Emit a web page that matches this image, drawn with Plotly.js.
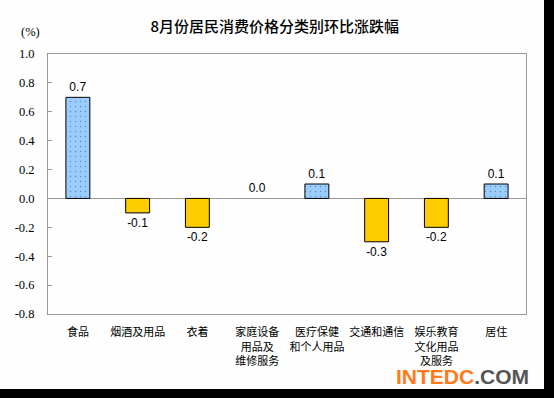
<!DOCTYPE html>
<html>
<head>
<meta charset="utf-8">
<script src="https://cdn.plot.ly/plotly-3.0.1.min.js"></script>
<style>
html,body{margin:0;padding:0;background:#000;width:554px;height:398px;overflow:hidden;}
#chart{width:544px;height:389px;background:#fdfefd;}
</style>
</head>
<body>
<div id="chart"></div>
<script>
const categories = ["食品","烟酒及用品","衣着","家庭设备<br>用品及<br>维修服务","医疗保健<br>和个人用品","交通和通信","娱乐教育<br>文化用品<br>及服务","居住"];
const values = [0.7, -0.1, -0.2, 0.0, 0.1, -0.3, -0.2, 0.1];
const valueLabels = ["0.7","-0.1","-0.2","0.0","0.1","-0.3","-0.2","0.1"];
const tickVals = [1.0,0.8,0.6,0.4,0.2,0.0,-0.2,-0.4,-0.6,-0.8];
const tickText = ["1.0","0.8","0.6","0.4","0.2","0.0","-0.2","-0.4","-0.6","-0.8"];
const titleText = "8月份居民消费价格分类别环比涨跌幅";

const colors = values.map(v => v >= 0 ? "#99ccff" : "#ffcc00");
const lineWidths = values.map(v => v === 0 ? 0 : 1);
const patternShapes = values.map(v => v > 0 ? "." : "");

const serif = "'Liberation Serif', 'Times New Roman', serif";

const trace = {
  type: "bar",
  x: categories,
  y: values,
  text: valueLabels,
  textposition: "outside",
  cliponaxis: false,
  textfont: {family: "Arial, Liberation Sans", size: 12, color: "#000"},
  marker: {
    color: colors,
    line: {color: "#000", width: lineWidths},
    pattern: {shape: patternShapes, fgcolor: "#8fc0f2", size: 5, solidity: 0.06, fillmode: "overlay"}
  },
  hoverinfo: "none"
};

const layout = {
  width: 544, height: 389,
  margin: {l: 48, r: 18, t: 54, b: 75},
  paper_bgcolor: "#fdfefd",
  plot_bgcolor: "#fdfefd",
  bargap: 0.6,
  showlegend: false,
  title: {text: titleText, x: 0.505, xanchor: "center", y: 0.93, yanchor: "middle",
          font: {family: "Noto Sans CJK SC", size: 15, color: "#000", weight: 500}},
  xaxis: {
    showline: true, linecolor: "#999", linewidth: 1, mirror: true,
    ticks: "", showgrid: false, zeroline: false,
    ticklabelstandoff: 8,
    tickfont: {family: "Noto Sans CJK SC", size: 11, color: "#000"},
    automargin: false
  },
  yaxis: {
    range: [-0.8, 1.0], tickvals: tickVals, ticktext: tickText,
    showline: true, linecolor: "#999", linewidth: 1, mirror: true,
    ticks: "inside", ticklen: 4, tickcolor: "#999",
    ticklabelstandoff: 10,
    showgrid: false, zeroline: true, zerolinecolor: "#999", zerolinewidth: 1,
    tickfont: {family: serif, size: 12.5, color: "#000"},
    automargin: false
  },
  annotations: [
    {text: "(%)", xref: "paper", yref: "paper", x: -0.036, y: 1.085, xanchor: "center", yanchor: "middle",
     showarrow: false, font: {family: serif, size: 12.5, color: "#000"}},
    {text: "<b><span style='color:#ff7a1a'>INTEDC</span><span style='color:#555'>.COM</span></b>", xref: "paper", yref: "paper",
     x: 1.01, y: -0.242, xanchor: "right", yanchor: "middle", showarrow: false,
     font: {family: "Liberation Sans, Arial", size: 21}}
  ]
};

Plotly.newPlot("chart", [trace], layout, {displayModeBar: false, staticPlot: true});
</script>
</body>
</html>
